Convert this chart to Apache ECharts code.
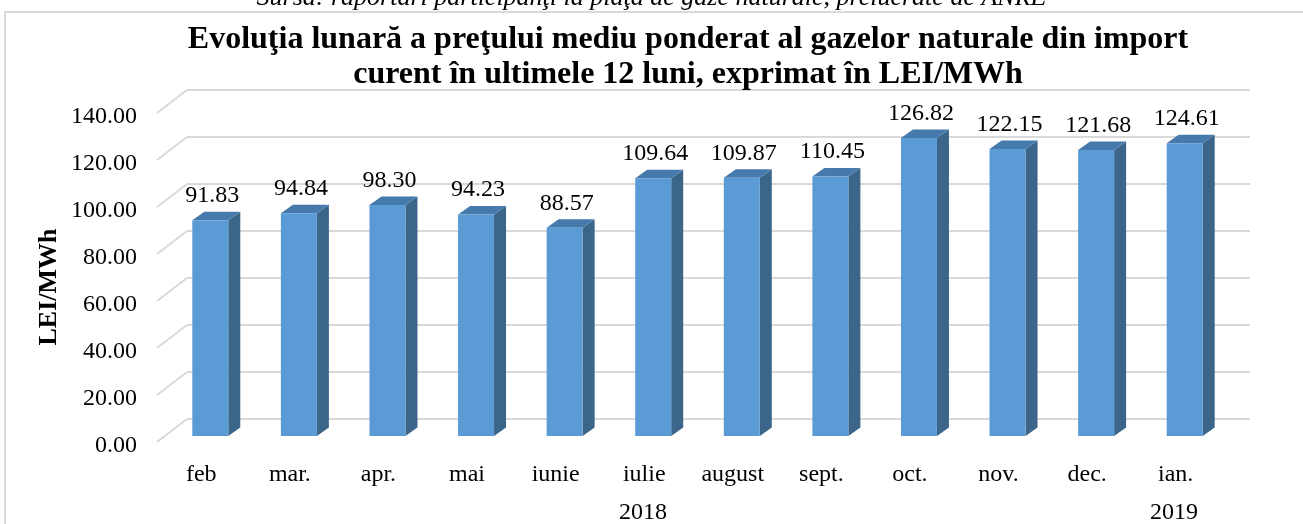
<!DOCTYPE html>
<html>
<head>
<meta charset="utf-8">
<script src="https://cdn.jsdelivr.net/npm/echarts@6/dist/echarts.min.js"></script>
<style>
html,body{margin:0;padding:0;background:#fff;}
#chart{width:1303px;height:524px;}
</style>
</head>
<body>
<div id="chart"></div>
<script>
// luni si preturi (LEI/MWh)
var luni = ['feb', 'mar.', 'apr.', 'mai', 'iunie', 'iulie', 'august', 'sept.', 'oct.', 'nov.', 'dec.', 'ian.'];
var preturi = [91.83, 94.84, 98.30, 94.23, 88.57, 109.64, 109.87, 110.45, 126.82, 122.15, 121.68, 124.61];
var ani = ['2018', '2019'];
var ticks = [0, 20, 40, 60, 80, 100, 120, 140];

var FONT = 'Liberation Serif';
var chart = echarts.init(document.getElementById('chart'));

// deplasare 3D: peretele din spate -> planul din fata
var DX = -30, DY = 23;

var option = {
    animation: false,
    graphic: [
        {type: 'rect', shape: {x: 5, y: 12, width: 1320, height: 530},
            style: {fill: 'none', stroke: '#d9d9d9', lineWidth: 2}, z: -1},
        {type: 'text', left: 'center', top: -15,
            style: {text: 'Sursa: raportări participanţi la piaţa de gaze naturale, prelucrate de ANRE',
                font: 'italic 26px "' + FONT + '"', fill: '#000'}},
        {type: 'text', x: 643, y: 513,
            style: {text: ani[0], font: '24px "' + FONT + '"', fill: '#000', align: 'center', verticalAlign: 'middle'}},
        {type: 'text', x: 1174, y: 513,
            style: {text: ani[1], font: '24px "' + FONT + '"', fill: '#000', align: 'center', verticalAlign: 'middle'}},
        {type: 'text', x: 49, y: 287, rotation: Math.PI / 2,
            style: {text: 'LEI/MWh', font: 'bold 26px "' + FONT + '"', fill: '#000', align: 'center', verticalAlign: 'middle'}}
    ],
    title: {
        text: 'Evoluţia lunară a preţului mediu ponderat al gazelor naturale din import\ncurent în ultimele 12 luni, exprimat în LEI/MWh',
        left: 683, top: 17, textAlign: 'center',
        textStyle: {fontFamily: FONT, fontSize: 32, fontWeight: 'bold', color: '#000', lineHeight: 35}
    },
    grid: [
        // peretele din spate
        {left: 187, right: 53, top: 90, bottom: 105},
        // planul din fata (etichete)
        {left: 157, right: 83, top: 117, bottom: 78}
    ],
    xAxis: [
        {type: 'category', gridIndex: 0, data: luni, axisLine: {show: false},
            axisTick: {show: false}, axisLabel: {show: false}},
        {type: 'category', gridIndex: 1, data: luni, axisLine: {show: false},
            axisTick: {show: false},
            axisLabel: {margin: 17, fontFamily: FONT, fontSize: 24, color: '#000'}}
    ],
    yAxis: [
        {type: 'value', gridIndex: 0, min: 0, max: 140, interval: 20,
            axisLabel: {show: false}, axisLine: {show: false}, axisTick: {show: false},
            splitLine: {lineStyle: {color: '#d9d9d9', width: 2}}},
        {type: 'value', gridIndex: 1, min: 0, max: 140, interval: 20,
            axisLabel: {margin: 20, fontFamily: FONT, fontSize: 24, color: '#000',
                formatter: function (v) { return v.toFixed(2); }},
            axisLine: {show: false}, axisTick: {show: false}, splitLine: {show: false}}
    ],
    series: [
        {
            // liniile diagonale din stanga
            type: 'custom', xAxisIndex: 0, yAxisIndex: 0, silent: true,
            data: ticks.map(function (v) { return [0, v]; }),
            renderItem: function (params, api) {
                var y = api.coord([0, api.value(1)])[1];
                var x = params.coordSys.x;
                return {type: 'line', shape: {x1: x + DX, y1: y + DY, x2: x, y2: y},
                    style: {stroke: '#d9d9d9', lineWidth: 2}};
            }
        },
        {
            type: 'custom', xAxisIndex: 0, yAxisIndex: 0,
            data: preturi.map(function (v, i) { return [i, v]; }),
            renderItem: function (params, api) {
                var i = api.value(0), v = api.value(1);
                var top = api.coord([i, v]);
                var base = api.coord([i, 0]);
                var w = 36, dx = 12, dy = 8.5;
                var cx = top[0] - 21;
                var l = cx - w / 2, r = cx + w / 2;
                var t = top[1] + 17, b = base[1] + 17;
                return {
                    type: 'group',
                    children: [
                        {type: 'polygon', shape: {points: [[r, t], [r + dx, t - dy], [r + dx, b - dy], [r, b]]},
                            style: {fill: '#3b6589'}},
                        {type: 'polygon', shape: {points: [[l, t], [l + dx, t - dy], [r + dx, t - dy], [r, t]]},
                            style: {fill: '#4679ac'}},
                        {type: 'rect', shape: {x: l, y: t, width: w, height: b - t},
                            style: {fill: '#5b9bd5'}},
                        {type: 'text', x: cx + 2, y: t - dy - 16,
                            style: {text: v.toFixed(2), font: '24px "' + FONT + '"', fill: '#000',
                                align: 'center', verticalAlign: 'middle'}}
                    ]
                };
            }
        }
    ]
};
chart.setOption(option);
</script>
</body>
</html>
